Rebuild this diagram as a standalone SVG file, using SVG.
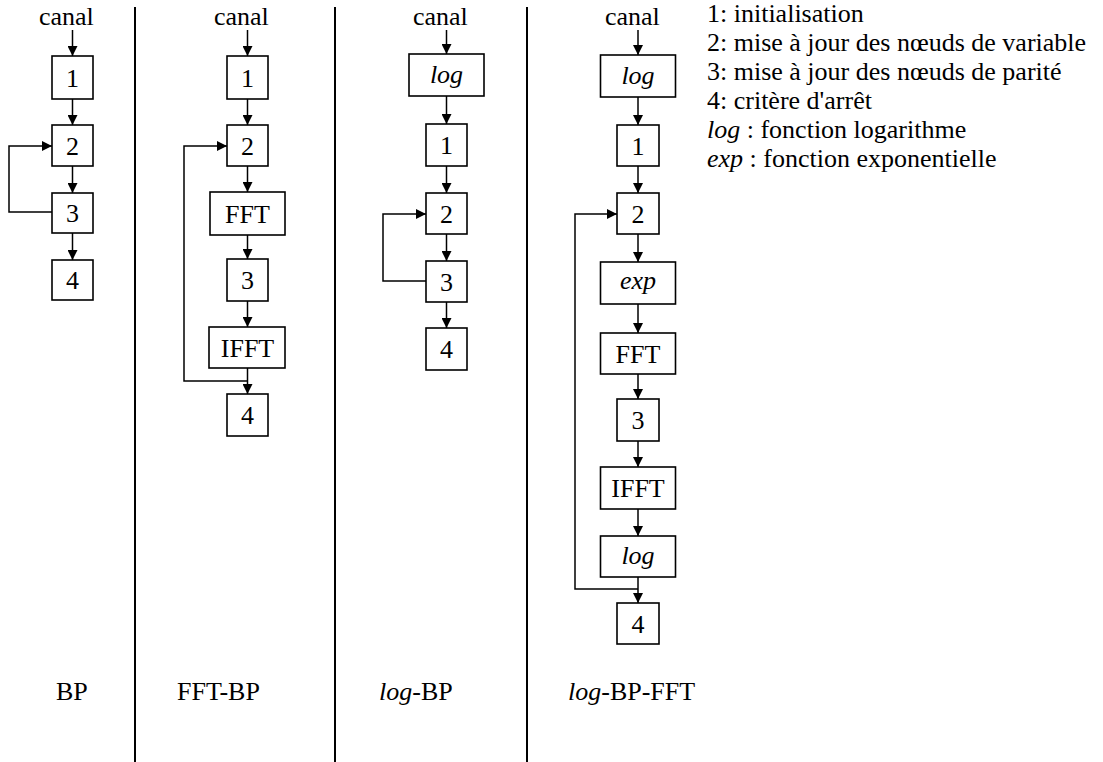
<svg xmlns="http://www.w3.org/2000/svg" width="1103" height="762" viewBox="0 0 1103 762" font-family="'Liberation Serif', 'Times New Roman', 'DejaVu Serif', serif">
<defs>
<marker id="ah" markerUnits="userSpaceOnUse" markerWidth="10" markerHeight="10" refX="10" refY="5" orient="auto">
<path d="M0,0 L10,5 L0,10 z" fill="#000"/>
</marker>
<style>
text{font-family:'Liberation Serif','Times New Roman','DejaVu Serif',serif;font-size:26px;fill:#000}
.c{text-anchor:middle}
.i{font-style:italic}
rect{fill:#fff;stroke:#000;stroke-width:1.6}
.a{fill:none;stroke:#000;stroke-width:1.5;marker-end:url(#ah)}
.d{stroke:#000;stroke-width:2}
</style>
</defs>
<rect x="0" y="0" width="1103" height="762" style="stroke:none;fill:#fff"/>
<g id="dividers">
<line class="d" x1="135" y1="7" x2="135" y2="762"/>
<line class="d" x1="335" y1="7" x2="335" y2="762"/>
<line class="d" x1="527" y1="7" x2="527" y2="762"/>
</g>
<g id="connectors">
<line class="a" x1="72.5" y1="30" x2="72.5" y2="56"/>
<line class="a" x1="72.5" y1="99" x2="72.5" y2="125"/>
<line class="a" x1="72.5" y1="166" x2="72.5" y2="193"/>
<line class="a" x1="72.5" y1="233" x2="72.5" y2="260"/>
<polyline class="a" points="52,212 9,212 9,146 52,146"/>
<line class="a" x1="247.5" y1="30" x2="247.5" y2="56"/>
<line class="a" x1="247.5" y1="99" x2="247.5" y2="125"/>
<line class="a" x1="247.5" y1="166" x2="247.5" y2="192"/>
<line class="a" x1="247.5" y1="235" x2="247.5" y2="259"/>
<line class="a" x1="247.5" y1="301" x2="247.5" y2="327"/>
<line class="a" x1="247.5" y1="368" x2="247.5" y2="394"/>
<polyline class="a" points="247.5,381 184,381 184,146 227,146"/>
<line class="a" x1="446.5" y1="30" x2="446.5" y2="54"/>
<line class="a" x1="446.5" y1="96" x2="446.5" y2="124"/>
<line class="a" x1="446.5" y1="166" x2="446.5" y2="193"/>
<line class="a" x1="446.5" y1="234" x2="446.5" y2="261"/>
<line class="a" x1="446.5" y1="302" x2="446.5" y2="328"/>
<polyline class="a" points="426,281 383,281 383,214 426,214"/>
<line class="a" x1="638" y1="30" x2="638" y2="55"/>
<line class="a" x1="638" y1="97" x2="638" y2="125"/>
<line class="a" x1="638" y1="166" x2="638" y2="193"/>
<line class="a" x1="638" y1="234" x2="638" y2="262"/>
<line class="a" x1="638" y1="304" x2="638" y2="333"/>
<line class="a" x1="638" y1="374" x2="638" y2="399"/>
<line class="a" x1="638" y1="441" x2="638" y2="467"/>
<line class="a" x1="638" y1="509" x2="638" y2="536"/>
<line class="a" x1="638" y1="577" x2="638" y2="603"/>
<polyline class="a" points="638,589 575,589 575,214 617,214"/>
</g>
<g id="bp-canal"><text x="39" y="25">canal</text></g>
<g id="bp-1"><rect x="52" y="56" width="41" height="43"/><text class="c" x="72.5" y="86.5">1</text></g>
<g id="bp-2"><rect x="52" y="125" width="41" height="41"/><text class="c" x="72.5" y="154.5">2</text></g>
<g id="bp-3"><rect x="52" y="193" width="41" height="40"/><text class="c" x="72.5" y="222">3</text></g>
<g id="bp-4"><rect x="52" y="260" width="41" height="40"/><text class="c" x="72.5" y="289">4</text></g>
<g id="fftbp-canal"><text x="214" y="25">canal</text></g>
<g id="fftbp-1"><rect x="227" y="56" width="41" height="43"/><text class="c" x="247.5" y="86.5">1</text></g>
<g id="fftbp-2"><rect x="227" y="125" width="41" height="41"/><text class="c" x="247.5" y="154.5">2</text></g>
<g id="fftbp-fft"><rect x="210" y="192" width="75" height="43"/><text class="c" x="247.5" y="222.5">FFT</text></g>
<g id="fftbp-3"><rect x="227" y="259" width="41" height="42"/><text class="c" x="247.5" y="289">3</text></g>
<g id="fftbp-ifft"><rect x="209" y="327" width="76" height="41"/><text class="c" x="247.5" y="356.5">IFFT</text></g>
<g id="fftbp-4"><rect x="227" y="394" width="41" height="42"/><text class="c" x="247.5" y="424">4</text></g>
<g id="logbp-canal"><text x="413" y="25">canal</text></g>
<g id="logbp-log"><rect x="409" y="54" width="75" height="42"/><text class="c i" x="446.5" y="83">log</text></g>
<g id="logbp-1"><rect x="426" y="124" width="41" height="42"/><text class="c" x="446.5" y="154">1</text></g>
<g id="logbp-2"><rect x="426" y="193" width="41" height="41"/><text class="c" x="446.5" y="222.5">2</text></g>
<g id="logbp-3"><rect x="426" y="261" width="41" height="41"/><text class="c" x="446.5" y="290.5">3</text></g>
<g id="logbp-4"><rect x="426" y="328" width="41" height="42"/><text class="c" x="446.5" y="358">4</text></g>
<g id="logbpfft-canal"><text x="605" y="25">canal</text></g>
<g id="logbpfft-log1"><rect x="600.5" y="55" width="75" height="42"/><text class="c i" x="638" y="84">log</text></g>
<g id="logbpfft-1"><rect x="617" y="125" width="42" height="41"/><text class="c" x="638" y="154.5">1</text></g>
<g id="logbpfft-2"><rect x="617" y="193" width="42" height="41"/><text class="c" x="638" y="222.5">2</text></g>
<g id="logbpfft-exp"><rect x="600.5" y="262" width="75" height="42"/><text class="c i" x="638" y="289">exp</text></g>
<g id="logbpfft-fft"><rect x="600.5" y="333" width="75" height="41"/><text class="c" x="638" y="362.5">FFT</text></g>
<g id="logbpfft-3"><rect x="617" y="399" width="42" height="42"/><text class="c" x="638" y="429">3</text></g>
<g id="logbpfft-ifft"><rect x="600.5" y="467" width="75" height="42"/><text class="c" x="638" y="497">IFFT</text></g>
<g id="logbpfft-log2"><rect x="600.5" y="536" width="75" height="41"/><text class="c i" x="638" y="564">log</text></g>
<g id="logbpfft-4"><rect x="617" y="603" width="42" height="41"/><text class="c" x="638" y="632.5">4</text></g>
<g id="labels">
<text x="56" y="700">BP</text>
<text x="177" y="700">FFT-BP</text>
<text x="379" y="700"><tspan class="i">log</tspan>-BP</text>
<text x="568" y="700"><tspan class="i">log</tspan>-BP-FFT</text>
</g>
<g id="legend">
<text x="707" y="22">1: initialisation</text>
<text x="707" y="51">2: mise à jour des nœuds de variable</text>
<text x="707" y="80">3: mise à jour des nœuds de parité</text>
<text x="707" y="109">4: critère d'arrêt</text>
<text x="707" y="138"><tspan class="i">log</tspan> : fonction logarithme</text>
<text x="707" y="167"><tspan class="i">exp</tspan> : fonction exponentielle</text>
</g>
</svg>
